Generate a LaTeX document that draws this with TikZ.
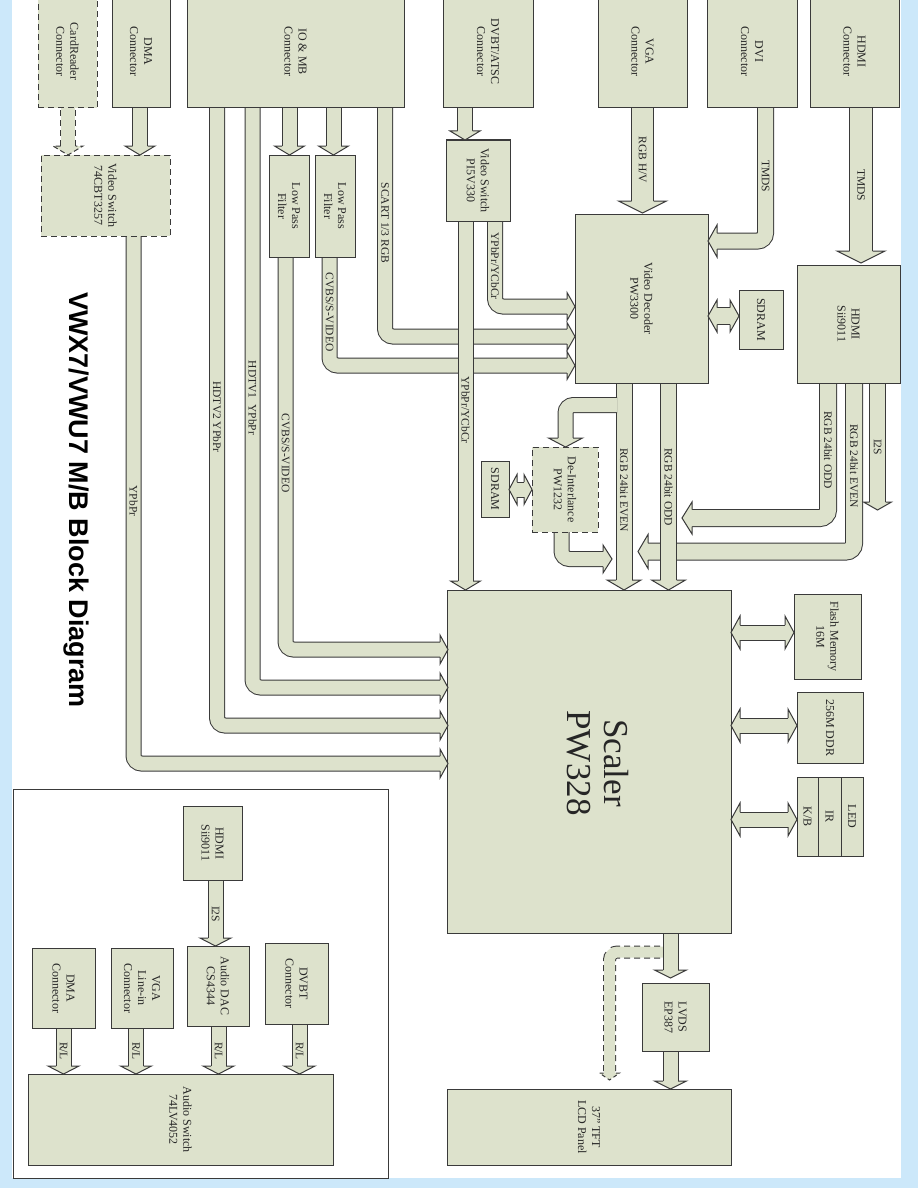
\documentclass[tikz,border=0pt]{standalone}
\usepackage{fontspec}
\setmainfont{Liberation Serif}
\newfontfamily\titlefont{Liberation Sans}
\definecolor{boxfill}{RGB}{221,226,204}
\definecolor{edge}{RGB}{58,58,58}
\definecolor{bluebg}{RGB}{204,232,250}
\tikzset{
  box/.style={draw=edge, fill=boxfill, line width=1pt, inner sep=0pt, rectangle},
  txt/.style={rotate=-90, align=center, inner sep=0pt, font=\fontsize{12}{14}\selectfont, text=black!85},
  plbl/.style={rotate=-90, inner sep=0pt, font=\fontsize{11.5}{13}\selectfont, text=black!85},
  pipe/.style={draw=edge, line width=1pt, double=boxfill, double distance=#1, rounded corners=8pt},
  pipe/.default=14pt,
  dpipe/.style args={#1/#2}{draw=boxfill, line width=#1, rounded corners=8pt,
     preaction={draw=edge, line width=#2, dash pattern=on 6pt off 4pt}},
  pics/ah/.style args={#1/#2/#3}{code={
     \filldraw[fill=boxfill, draw=edge, line width=1pt] (-#3,#1) -- (-#3,#2) -- (0,0) -- (-#3,-#2) -- (-#3,-#1);}},
}
\newcommand\bx[7][]{%
  \node[box,#1,minimum width={(#5)-(#3)},minimum height={(#6)-(#4)}] (#2) at ({((#3)+(#5))/2},{((#4)+(#6))/2}) {};
  \node[txt] (#2-t) at (#2.center) {#7};}
\begin{document}
\begin{tikzpicture}[x=1pt,y=-1pt]
\useasboundingbox (0,0) rectangle (918,1188);
\fill[bluebg] (0,0) rectangle (918,1188);
\fill[white] (12,0) rectangle (901,1178);

% title
\node[rotate=-90, inner sep=0pt, font=\titlefont\bfseries\fontsize{27}{30}\selectfont] (title) at (76,500) {VWX7/VWU7 M/B Block Diagram};

% audio frame
\bx[fill=white]{audio}{13}{789}{388}{1178}{}

% ---------------- pipes ----------------
\draw[dpipe=14pt/16pt] (68,100) -- (68,147);
\draw[pipe] (140,100) -- (140,147);
\draw[pipe] (133.5,230) |- (441,763.5);
\draw[pipe] (217,100) |- (441,725.5);
\draw[pipe] (252.5,100) |- (441,687.5);
\draw[pipe] (285.5,250) |- (441,649.5);
\draw[pipe] (289.5,100) -- (289.5,147);
\draw[pipe] (333.5,100) -- (333.5,147);
\draw[pipe] (385,100) |- (568,336.5);
\draw[pipe] (329.5,250) |- (568,365.5);
\draw[pipe] (495,215) |- (568,306.5);
\draw[pipe] (465.5,215) -- (465.5,582);
\draw[pipe] (465,100) -- (465,132);
\draw[pipe=21pt] (642.5,100) -- (642.5,202);
\draw[pipe=15pt] (765.5,100) |- (716,241);
\draw[pipe=22pt] (861,100) -- (861,252);
\draw[pipe=16pt] (716,316) -- (731,316);
% HDMI outputs
\draw[pipe=16pt] (854,375) |- (647,551.5);
\draw[pipe=16pt] (828,375) |- (691,518);
\draw[pipe=15pt] (877.5,375) -- (877.5,503);
% decoder outputs
\draw[pipe=15pt] (624,375) -- (624,581);
\draw[pipe] (617,405) -| (565.5,439);
\draw[pipe=15pt] (668.5,375) -- (668.5,581);
\draw[pipe] (561.5,525) |- (604,559);
\draw[pipe] (516,489.5) -- (525,489.5);
% scaler side
\draw[pipe] (739,632.5) -- (786,632.5);
\draw[pipe] (739,725.5) -- (789,725.5);
\draw[pipe] (739,819.5) -- (789,819.5);
\draw[dpipe=11pt/13pt] (670,952) -| (609.5,1074);
\draw[pipe] (670.5,925) -- (670.5,971);
\draw[pipe] (670.5,1045) -- (670.5,1082);
% audio
\draw[pipe] (215.5,875) -- (215.5,939);
\draw[pipe] (63.5,1020) -- (63.5,1067);
\draw[pipe] (136,1020) -- (136,1067);
\draw[pipe] (218.5,1020) -- (218.5,1067);
\draw[pipe] (299.5,1018) -- (299.5,1067);

% ---------------- boxes ----------------
\bx[dash pattern=on 6pt off 4pt]{cr}{38}{-5}{97}{108}{CardReader\\Connector}
\bx{dma}{112}{-5}{170}{108}{DMA\\Connector}
\bx{io}{187}{-5}{404}{108}{IO \& MB\\Connector}
\bx{dvbt}{443}{-5}{533}{108}{DVBT/ATSC\\Connector}
\bx{vga}{598}{-5}{687}{108}{VGA\\Connector}
\bx{dvi}{707}{-5}{797}{108}{DVI\\Connector}
\bx{hdmic}{810}{-5}{899}{108}{HDMI\\Connector}
\bx[dash pattern=on 6pt off 4pt]{vsw1}{41}{155}{170}{236}{Video Switch\\74CBT3257}
\bx{lpf1}{269}{155}{309}{257}{Low Pass\\Filter}
\bx{lpf2}{315}{155}{355}{257}{Low Pass\\Filter}
\bx{vsw2}{446}{140}{510}{221}{Video Switch\\PI5V330}
\bx{dec}{575}{214}{708}{383}{Video Decoder\\PW3300}
\bx{sd1}{739}{290}{783}{349}{SDRAM}
\bx{hdmi}{797}{265}{900}{383}{HDMI\\Sii9011}
\bx[dash pattern=on 6pt off 4pt]{dei}{532}{447}{598}{532}{De-Interlance\\PW1232}
\bx{sd2}{481}{461}{509}{517}{SDRAM}
\bx{scaler}{447}{590}{731}{933}{}
\node[txt, font=\fontsize{35}{37}\selectfont] (scaler-l) at (598,763) {Scaler\\PW328};
\bx{flash}{794}{594}{861}{679}{Flash Memory\\16M}
\bx{ddr}{797}{692}{863}{763}{256M DDR}
\bx{kbk}{797}{777}{818}{856}{K/B}
\bx{kbi}{818}{777}{841}{856}{IR}
\bx{kbl}{841}{777}{863}{856}{LED}
\bx{lvds}{642}{983}{709}{1051}{LVDS\\EP387}
\bx{lcd}{447}{1089}{731}{1165}{37'' TFT\\LCD Panel}
\bx{ahdmi}{183}{806}{242}{880}{HDMI\\Sii9011}
\bx{dac}{187}{946}{249}{1026}{Audio DAC\\CS4344}
\bx{advbt}{265}{943}{328}{1024}{DVBT\\Connector}
\bx{avga}{111}{948}{173}{1028}{VGA\\Line-in\\Connector}
\bx{adma}{32}{948}{95}{1028}{DMA\\Connector}
\bx{asw}{28}{1074}{333}{1165}{Audio Switch\\74LV4052}

% ---------------- heads ----------------
\pic[rotate=-90, dash pattern=on 5pt off 3pt] at (68,155) {ah=7.5/15/9};
\pic[rotate=-90] at (140,155) {ah=7.5/15/9};
\pic at (448,763.5) {ah=7.5/14.5/8};
\pic at (448,725.5) {ah=7.5/14.5/8};
\pic at (448,687.5) {ah=7.5/14.5/8};
\pic at (448,649.5) {ah=7.5/14.5/8};
\pic[rotate=-90] at (289.5,155) {ah=7.5/15/9};
\pic[rotate=-90] at (333.5,155) {ah=7.5/15/9};
\pic at (575,336.5) {ah=7.5/14/8};
\pic at (575,365.5) {ah=7.5/14/8};
\pic at (575,306.5) {ah=7.5/14/8};
\pic[rotate=-90] at (465.5,590) {ah=7.5/15/9};
\pic[rotate=-90] at (465,140) {ah=7.5/15/9};
\pic[rotate=-90] at (642.5,213) {ah=11/24/12};
\pic[rotate=180] at (708,241) {ah=8/16/9};
\pic[rotate=-90] at (861,263) {ah=11.5/24/12};
\pic[rotate=180] at (708,316) {ah=8.5/16/9};
\pic at (739,316) {ah=8.5/16/9};
\pic[rotate=180] at (638,551.5) {ah=8.5/17/10};
\pic[rotate=180] at (682,518) {ah=8.5/16/10};
\pic[rotate=-90] at (877.5,510) {ah=8/14/8};
\pic[rotate=-90] at (624,590) {ah=8/17/10};
\pic[rotate=-90] at (565.5,447) {ah=7.5/17/9};
\pic[rotate=-90] at (668.5,590) {ah=8/17/10};
\pic at (612,559) {ah=7.5/14/9};
\pic[rotate=180] at (509,489.5) {ah=7.5/15/8};
\pic at (532,489.5) {ah=7.5/15/8};
\pic[rotate=180] at (731,632.5) {ah=7.5/16.5/9};
\pic at (794,632.5) {ah=7.5/16.5/9};
\pic[rotate=180] at (731,725.5) {ah=7.5/16.5/9};
\pic at (797,725.5) {ah=7.5/16.5/9};
\pic[rotate=180] at (731,819.5) {ah=7.5/16.5/9};
\pic at (797,819.5) {ah=7.5/16.5/9};
\pic[rotate=-90] at (670.5,978) {ah=7.5/16/8};
\pic[rotate=-90, dash pattern=on 4pt off 3pt] at (609.5,1080) {ah=6/10/7};
\pic[rotate=-90] at (670.5,1089) {ah=7.5/16/8};
\pic[rotate=-90] at (215.5,946) {ah=7.5/15.5/8};
\pic[rotate=-90] at (63.5,1074) {ah=7.5/15.5/8};
\pic[rotate=-90] at (136,1074) {ah=7.5/15.5/8};
\pic[rotate=-90] at (218.5,1074) {ah=7.5/15.5/8};
\pic[rotate=-90] at (299.5,1074) {ah=7.5/15.5/8};

% ---------------- pipe labels ----------------
\node[plbl] (l1) at (133.5,501) {YPbPr};
\node[plbl] (l2) at (217,417) {HDTV2 YPbPr};
\node[plbl] (l3) at (252.5,398) {HDTV1\ \ YPbPr};
\node[plbl] (l4) at (285.5,453) {CVBS/S-VIDEO};
\node[plbl] (l5) at (385,223) {SCART 1/3 RGB};
\node[plbl] (l6) at (329.5,312) {CVBS/S-VIDEO};
\node[plbl] (l7) at (495,266) {YPbPr/YCbCr};
\node[plbl] (l8) at (465.5,410) {YPbPr/YCbCr};
\node[plbl] (l9) at (642.5,160) {RGB H/V};
\node[plbl] (l10) at (765.5,176) {TMDS};
\node[plbl] (l11) at (861,185) {TMDS};
\node[plbl] (l12) at (624,490) {RGB 24bit EVEN};
\node[plbl] (l13) at (668.5,487) {RGB 24bit ODD};
\node[plbl] (l14) at (828,450) {RGB 24bit ODD};
\node[plbl] (l15) at (854,466) {RGB 24bit EVEN};
\node[plbl] (l16) at (877.5,447) {I2S};
\node[plbl] (l17) at (215.5,914) {I2S};
\node[plbl] (l18) at (63.5,1051) {R/L};
\node[plbl] (l19) at (136,1051) {R/L};
\node[plbl] (l20) at (218.5,1051) {R/L};
\node[plbl] (l21) at (299.5,1051) {R/L};
\end{tikzpicture}
\end{document}
